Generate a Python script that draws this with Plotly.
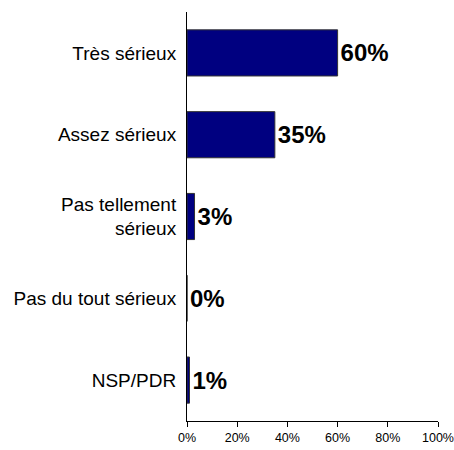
import plotly.graph_objects as go

categories = ["Très sérieux", "Assez sérieux", "Pas tellement<br>sérieux", "Pas du tout sérieux", "NSP/PDR"]
values = [60, 35, 3, 0, 1]
labels = [f"{v}%" for v in values]
tick_vals = [0, 20, 40, 60, 80, 100]
tick_text = ["0%", "20%", "40%", "60%", "80%", "100%"]

fig = go.Figure(go.Bar(
    x=values, y=categories, orientation="h",
    marker=dict(color="#000080", line=dict(color="#333333", width=1)),
    text=labels, textposition="outside", cliponaxis=False,
    textfont=dict(family="Liberation Sans, Arial", size=24, color="black", weight="bold"),
))

fig.update_layout(
    width=454, height=450,
    margin=dict(l=187, r=16, t=12, b=29),
    paper_bgcolor="white", plot_bgcolor="white",
    bargap=0.436, showlegend=False,
    font=dict(family="Liberation Sans, Arial", color="black"),
)
fig.update_xaxes(
    range=[0, 100], tickvals=tick_vals, ticktext=tick_text, automargin=False,
    showgrid=False, zeroline=False, showline=True, linecolor="black", linewidth=1,
    ticks="outside", ticklen=5, tickcolor="black", ticklabeloverflow="allow",
    tickfont=dict(size=12.5, family="Liberation Sans, Arial"),
)
fig.update_yaxes(
    autorange="reversed", showgrid=False, zeroline=False, automargin=False,
    showline=True, linecolor="black", linewidth=1,
    ticks="", ticklabelstandoff=6,
    tickfont=dict(size=19, family="Liberation Sans, Arial"),
)

fig.write_html(
    "out.html",
    config={"displayModeBar": False},
    post_script="document.body.style.margin='0';document.body.style.overflow='hidden';",
)
